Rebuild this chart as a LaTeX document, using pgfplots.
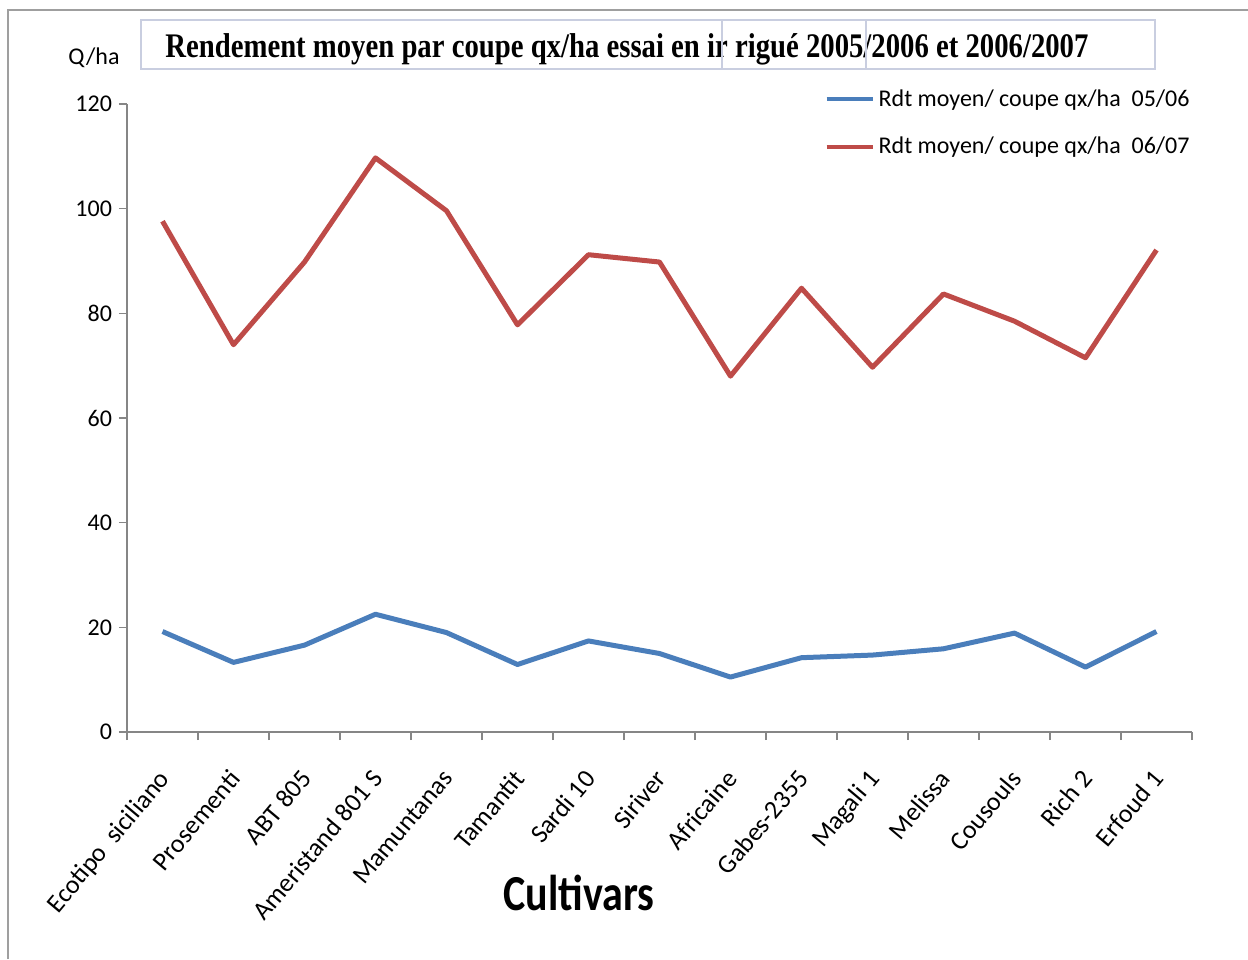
\documentclass[border=0pt]{standalone}
\usepackage{pgfplots}
\pgfplotsset{compat=1.18}
\usepackage{fontspec}
\setmainfont{Carlito}
\newfontfamily\titlefont{Liberation Serif}
\definecolor{xlblue}{HTML}{4A7EBB}
\definecolor{xlred}{HTML}{BE4B48}
\definecolor{axgray}{HTML}{868686}
\definecolor{boxc}{HTML}{C9CEE0}
\pgfplotstableread{
x blue red
0 19.2 97.6
1 13.3 74.0
2 16.6 89.8
3 22.5 109.7
4 19.0 99.6
5 12.9 77.8
6 17.4 91.2
7 15.0 89.8
8 10.5 68.0
9 14.2 84.8
10 14.7 69.7
11 15.9 83.7
12 18.9 78.5
13 12.4 71.5
14 19.2 92.1
}\datatable
\begin{document}
\begin{tikzpicture}[x=1pt,y=1pt]
\useasboundingbox (-63.5,-113.5) rectangle (560.5,366);
\draw[gray!75, line width=1.3pt] (-59.5,-113.5) -- (-59.5,361) -- (560.5,361);
\begin{axis}[
  at={(0,0)}, anchor=south west,
  scale only axis, width=532.5pt, height=314pt,
  xmin=-0.5, xmax=14.5, ymin=0, ymax=120,
  axis x line=bottom, axis y line=left,
  axis line style={-, axgray, line width=0.8pt},
  tick style={axgray, line width=0.8pt},
  tick align=outside, major tick length=4pt,
  xtick={-0.5,0.5,...,14.5}, xticklabels={},
  extra x ticks={0,1,...,14},
  extra x tick style={major tick length=0pt},
  extra x tick labels={Ecotipo\ \ siciliano, Prosementi, ABT 805, Ameristand 801 S, Mamuntanas, Tamantit, Sardi 10, Siriver, Africaine, Gabes-2355, Magali 1, Melissa, Cousouls, Rich 2, Erfoud 1},
  xticklabel style={font=\fontsize{13}{15}\selectfont, xshift=-3pt, yshift=-15pt, rotate=50, anchor=north east, inner sep=2pt},
  ytick={0,20,...,120},
  yticklabel style={font=\fontsize{12}{14}\selectfont},
  /pgf/number format/assume math mode=true,
  legend style={at={(1.0075,1.0365)}, anchor=north east, draw=none, fill=none,
    font=\fontsize{12}{14}\selectfont, row sep=9.8pt, legend cell align=left,
    /tikz/every even column/.append style={column sep=0pt}},
  legend image code/.code={\draw[#1, line width=2pt] (0pt,0pt) -- (23pt,0pt);},
]
\addplot[xlblue, line width=2.5pt, line join=round] table[x=x, y=blue] {\datatable};
\addlegendentry{Rdt moyen/ coupe qx/ha\ \ 05/06}
\addplot[xlred, line width=2.5pt, line join=round] table[x=x, y=red] {\datatable};
\addlegendentry{Rdt moyen/ coupe qx/ha\ \ 06/07}
\end{axis}
\node[font=\fontsize{12}{14}\selectfont] at (-16.5,337) {Q/ha};
\node[font=\bfseries\fontsize{21}{24}\selectfont] at (226,-80.5) {\scalebox{1}[1.2]{Cultivars}};
\draw[boxc, fill=white, line width=0.8pt] (7,331.5) rectangle (514,356);
\node[anchor=base west, inner sep=0pt] at (19,337) {\scalebox{1}[1.2]{\resizebox{461.5pt}{!}{\titlefont\bfseries Rendement moyen par coupe qx/ha essai en ir rigué 2005/2006 et 2006/2007}}};
\draw[boxc, line width=0.6pt] (297.5,331.5) -- (297.5,356);
\draw[boxc, line width=0.6pt] (369.5,331.5) -- (369.5,356);
\end{tikzpicture}
\end{document}
